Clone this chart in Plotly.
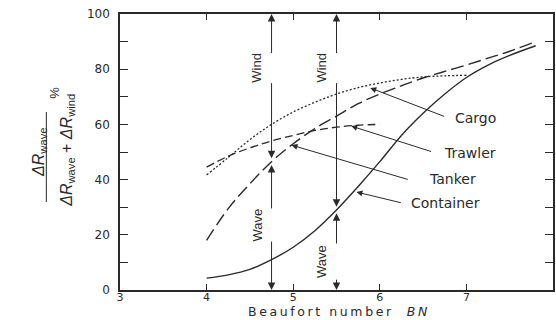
import numpy as np
import plotly.graph_objects as go

# ---------------- data ----------------
bn_long = [4.0, 4.25, 4.5, 4.75, 5.0, 5.25, 5.5, 5.75, 6.0, 6.25, 6.5, 6.75, 7.0, 7.25, 7.5, 7.8]
container = [4.3, 5.5, 7.5, 11, 15.5, 21.5, 29, 37.5, 46.5, 56, 64, 71, 77, 81.5, 85, 88.5]
tanker = [18, 29.5, 38.5, 46.5, 53, 58.5, 63, 67.5, 71, 74, 76.8, 79.2, 81.5, 84, 86.5, 90]

bn_trawler = [4.0, 4.25, 4.5, 4.75, 5.0, 5.25, 5.5, 5.75, 6.0]
trawler = [44.5, 48.5, 51.5, 54, 56, 57.8, 59, 59.7, 60]

bn_cargo = [4.0, 4.25, 4.5, 4.75, 5.0, 5.25, 5.5, 5.75, 6.0, 6.25, 6.5, 6.75, 7.0]
cargo = [41.7, 48, 54.5, 60, 64.5, 68, 71, 73.3, 75, 76.3, 77.2, 77.6, 77.8]

x_ticks = [3, 4, 5, 6, 7, 8]
y_ticks = [0, 10, 20, 30, 40, 50, 60, 70, 80, 90, 100]
y_ticktext = ["0", "", "20", "", "40", "", "60", "", "80", "", "100"]

# vertical wind/wave arrows
arrow_bn = [4.75, 5.5]
arrow_curve = ["tanker", "container"]
wind_gap = [(85.3, 75.5), (85.3, 75.5)]
wave_gap = [(29.0, 18.1), (16.3, 4.3)]

# labelled leaders: name, arrow tip (x, y), tail (x, y), text left (x, y)
labels = ["Cargo", "Trawler", "Tanker", "Container"]
tip_x = [5.89, 5.67, 4.98, 5.73]
tip_y = [73.2, 59.4, 52.5, 35.5]
tail_x = [6.76, 6.61, 6.34, 6.26]
tail_y = [62.7, 50.0, 39.9, 31.5]
text_x = [6.84, 6.72, 6.55, 6.34]
text_y = [62.3, 49.8, 40.4, 31.6]

# ---------------- figure ----------------
INK = "#2a2a2a"
W, H = 556, 320
ML, MR, MT, MB = 120, 1, 14, 30
PW, PH = W - ML - MR, H - MT - MB
NARROW = "Liberation Sans Narrow, Liberation Sans"


def px2paper(px, py):
    return (px - ML) / PW, (H - MB - py) / PH


fig = go.Figure()
fig.add_trace(go.Scatter(x=bn_long, y=container, mode="lines", name="Container",
                         line=dict(color=INK, width=1.4, shape="spline")))
fig.add_trace(go.Scatter(x=bn_long, y=tanker, mode="lines", name="Tanker",
                         line=dict(color=INK, width=1.4, shape="spline", dash="13px,5px")))
fig.add_trace(go.Scatter(x=bn_trawler, y=trawler, mode="lines", name="Trawler",
                         line=dict(color=INK, width=1.3, shape="spline", dash="8px,4px")))
fig.add_trace(go.Scatter(x=bn_cargo, y=cargo, mode="lines", name="Cargo",
                         line=dict(color=INK, width=1.3, shape="spline", dash="2px,2px")))

curves = {"tanker": (bn_long, tanker), "container": (bn_long, container)}

ann = []
arrow_common = dict(xref="x", yref="y", axref="x", ayref="y", text="", showarrow=True,
                    arrowhead=2, arrowsize=1.5, arrowwidth=1, arrowcolor=INK, standoff=0)
for xb, cname, wg, vg in zip(arrow_bn, arrow_curve, wind_gap, wave_gap):
    cx, cy = curves[cname]
    j = float(np.interp(xb, cx, cy))
    ann.append(dict(x=xb, y=100, ax=xb, ay=wg[0], **arrow_common))
    ann.append(dict(x=xb, y=j + 1.2, ax=xb, ay=wg[1], **arrow_common))
    ann.append(dict(x=xb, y=j - 1.2, ax=xb, ay=vg[0], **arrow_common))
    ann.append(dict(x=xb, y=0, ax=xb, ay=vg[1], **arrow_common))
    for word, g in (("Wind", wg), ("Wave", vg)):
        ann.append(dict(x=xb, y=(g[0] + g[1]) / 2, xref="x", yref="y", text=word,
                        showarrow=False, textangle=-90, xshift=-15,
                        font=dict(family=NARROW, size=13, color=INK)))

leader = dict(arrow_common)
leader.update(arrowsize=1.2)
for name, tx, ty, sx, sy, lx, ly in zip(labels, tip_x, tip_y, tail_x, tail_y, text_x, text_y):
    ann.append(dict(x=tx, y=ty, ax=sx, ay=sy, **leader))
    ann.append(dict(x=lx, y=ly, xref="x", yref="y", text=name, showarrow=False,
                    xanchor="left", yanchor="middle",
                    font=dict(family="DejaVu Sans", size=14, color=INK)))

# x axis title
x0, y0 = px2paper(340, 320)
ann.append(dict(x=x0, y=y0, xref="paper", yref="paper", showarrow=False, borderpad=0,
                text='<span style="letter-spacing:2.6px">Beaufort number  <i>BN</i></span>',
                xanchor="center", yanchor="bottom",
                font=dict(family="DejaVu Sans", size=12.5, color=INK)))

# y axis title as a fraction
ytf = dict(family=NARROW, size=16, color=INK)
nx, ny = px2paper(27, 152)
ann.append(dict(x=nx, y=ny, xref="paper", yref="paper", showarrow=False, textangle=-90,
                text="<i>ΔR</i><sub>wave</sub>", font=ytf))
dx, dy = px2paper(55, 150)
ann.append(dict(x=dx, y=dy, xref="paper", yref="paper", showarrow=False, textangle=-90,
                text="<i>ΔR</i><sub>wave</sub> + <i>ΔR</i><sub>wind</sub>", font=ytf))
px_, py_ = px2paper(44, 85)
ann.append(dict(x=px_, y=py_, xref="paper", yref="paper", showarrow=False, textangle=-90,
                text="%", font=dict(family=NARROW, size=13, color=INK)))

bx0, by0 = px2paper(46, 112)
bx1, by1 = px2paper(46, 202)
shapes = [dict(type="line", xref="paper", yref="paper", x0=bx0, x1=bx1, y0=by0, y1=by1,
               line=dict(color=INK, width=1))]

axis_common = dict(showline=True, linecolor=INK, linewidth=1.5, mirror="ticks",
                   ticks="inside", tickcolor=INK, tickwidth=1, showgrid=False, zeroline=False)
fig.update_layout(
    width=W, height=H,
    margin=dict(l=ML, r=MR, t=MT, b=MB, pad=0),
    paper_bgcolor="white", plot_bgcolor="white",
    showlegend=False,
    xaxis=dict(range=[3, 8], tickvals=x_ticks, ticklen=6, ticklabelstandoff=-4,
               tickfont=dict(family="DejaVu Sans", size=11, color=INK), **axis_common),
    yaxis=dict(range=[0, 100], tickvals=y_ticks, ticktext=y_ticktext, ticklen=8,
               ticklabelstandoff=6,
               tickfont=dict(family="DejaVu Sans", size=12, color=INK), **axis_common),
    annotations=ann,
    shapes=shapes,
)

fig.write_html("out.html")
